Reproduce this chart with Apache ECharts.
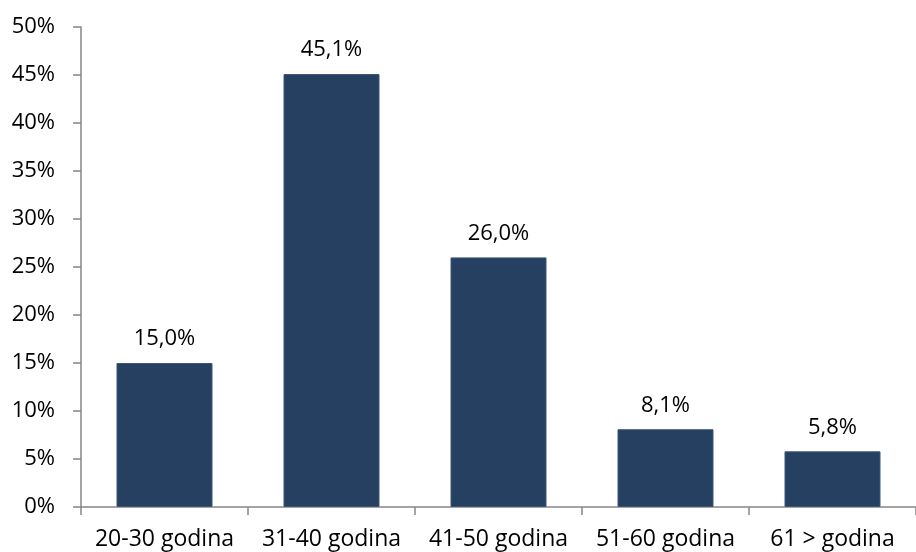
<!DOCTYPE html>
<html>
<head>
<meta charset="utf-8">
<script src="https://cdn.jsdelivr.net/npm/echarts@6/dist/echarts.min.js"></script>
<style>html,body{margin:0;padding:0;background:#fff}#c{width:916px;height:552px}</style>
</head>
<body>
<div id="c"></div>
<script>
const categories = ['20-30 godina', '31-40 godina', '41-50 godina', '51-60 godina', '61 > godina'];
const values = [15.0, 45.1, 26.0, 8.1, 5.8];
const yTicks = [0, 5, 10, 15, 20, 25, 30, 35, 40, 45, 50];

const font = '"Open Sans", sans-serif';
const chart = echarts.init(document.getElementById('c'));
chart.setOption({
  animation: false,
  grid: { left: 81, right: -8, top: 27, bottom: 45 },
  xAxis: {
    type: 'category',
    data: categories,
    axisLine: { lineStyle: { color: '#868686', width: 1.5 } },
    axisTick: { show: true, length: 8, lineStyle: { color: '#868686', width: 1.5 } },
    axisLabel: { color: '#000', fontFamily: font, fontSize: 23, margin: 21, interval: 0, hideOverlap: false }
  },
  yAxis: {
    type: 'value',
    min: yTicks[0],
    max: yTicks[yTicks.length - 1],
    interval: 5,
    splitLine: { show: false },
    axisLine: { show: true, lineStyle: { color: '#868686', width: 1.5 } },
    axisTick: { show: true, length: 8, lineStyle: { color: '#868686', width: 1.5 } },
    axisLabel: { color: '#000', fontFamily: font, fontSize: 22, margin: 26, formatter: v => v + '%' }
  },
  series: [{
    type: 'bar',
    data: values,
    barWidth: 96,
    itemStyle: { color: '#264061', borderColor: '#3a5678', borderWidth: 1 },
    label: {
      show: true,
      position: 'top',
      distance: 13,
      color: '#000',
      fontFamily: font,
      fontSize: 22,
      formatter: p => p.value.toFixed(1).replace('.', ',') + '%'
    }
  }]
});
</script>
</body>
</html>
